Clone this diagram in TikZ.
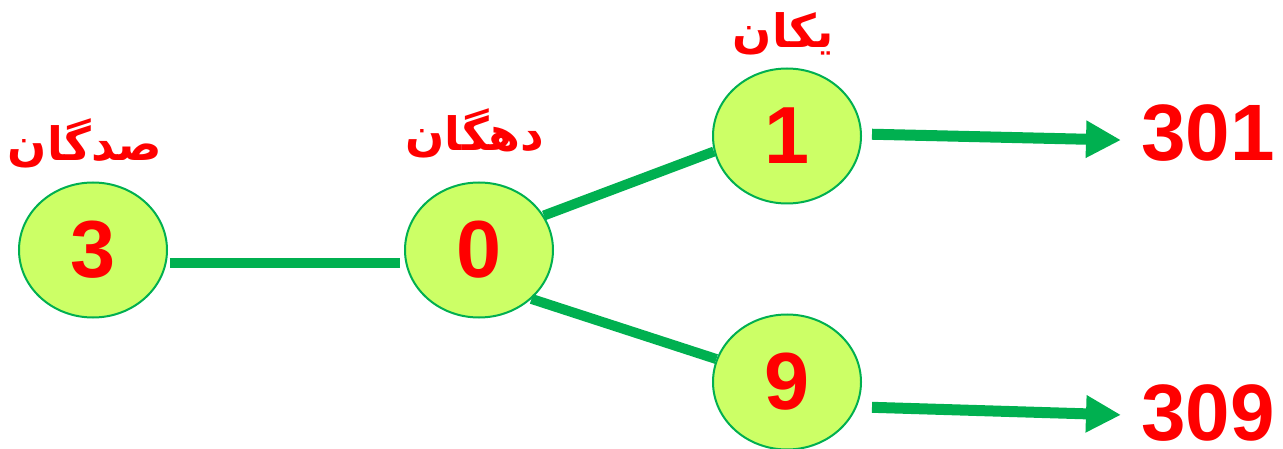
\documentclass[tikz,border=0pt]{standalone}
\usepackage{fontspec}
\setmainfont{Liberation Sans}
\newfontfamily\arabicfont[Script=Arabic]{DejaVu Sans}
\TeXXeTstate=1
\usetikzlibrary{shapes.geometric,arrows.meta}
\definecolor{lgreen}{HTML}{CCFF66}
\definecolor{dgreen}{HTML}{00B050}
\definecolor{dred}{HTML}{FF0000}
\tikzset{
  digit/.style={ellipse,draw=dgreen,line width=2pt,fill=lgreen,minimum width=148pt,minimum height=135pt,inner sep=0pt,
    text=dred,font=\fontsize{81}{81}\selectfont\bfseries},
  place/.style={text=dred,font=\fontsize{46}{46}\selectfont\bfseries\arabicfont,inner sep=0pt},
  result/.style={text=dred,font=\fontsize{80}{80}\selectfont\bfseries,inner sep=0pt},
  link/.style={draw=dgreen,line width=10pt},
  arr/.style={draw=dgreen,line width=11pt,-{Triangle[length=35pt,width=35pt]}}
}
\begin{document}
\begin{tikzpicture}[x=1pt,y=-1pt]
\useasboundingbox (0,0) rectangle (1283,449);
\node[digit] (n3) at (93,250) {3};
\node[digit] (n0) at (479,250) {0};
\node[digit] (n1) at (787,136) {1};
\node[digit] (n9) at (787,382) {9};
\node[place] (l3) at (85,143) {\beginR صدگان\endR};
\node[place] (l0) at (475,133) {\beginR دهگان\endR};
\node[place] (l1) at (783,34) {\beginR یکان\endR};
\node[result,anchor=base west] (t301) at (1141,161) {301};
\node[result,anchor=base west] (t309) at (1141,440) {309};
\draw[link,shorten <=3pt,shorten >=5pt] (n3.-10) -- (n0.190);
\draw[link] (n0.28) -- (n1.192);
\draw[link] (n0.-43) -- (n9.162);
\draw[arr,shorten <=10pt,shorten >=20pt] ([yshift=2pt]n1.east) -- ([yshift=-7pt]t301.west);
\draw[arr,shorten <=10pt,shorten >=20pt] ([yshift=-25pt]n9.east) -- ([yshift=-3pt]t309.west);
\end{tikzpicture}
\end{document}
